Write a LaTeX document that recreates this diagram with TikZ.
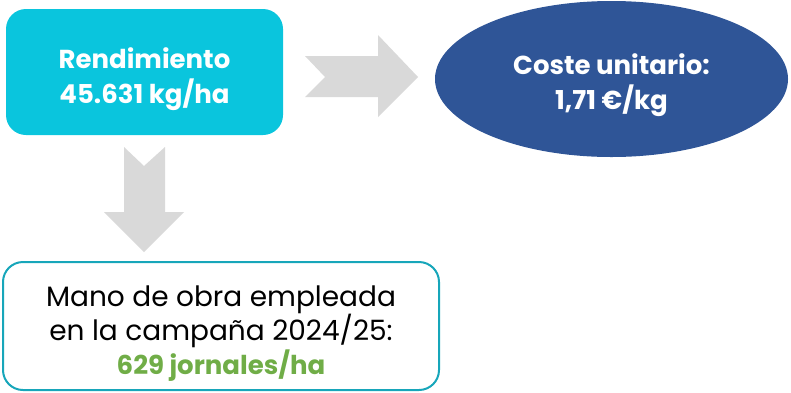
\documentclass[tikz,border=0pt]{standalone}
\usepackage{fontspec}
\setmainfont{Poppins}
\usetikzlibrary{shapes.geometric}
\definecolor{cyanbox}{HTML}{0AC5DD}
\definecolor{navy}{HTML}{2F5597}
\definecolor{tealline}{HTML}{17A6BA}
\definecolor{greytone}{HTML}{D9D9D9}
\definecolor{greentext}{HTML}{70AD47}
\tikzset{
  bigtext/.style={font=\fontsize{26}{35}\selectfont\bfseries, text=white, align=center, inner sep=0pt},
  regtext/.style={font=\fontsize{28}{34}\selectfont, text=black, align=center, inner sep=0pt}
}
\begin{document}
\begin{tikzpicture}[x=1pt,y=-1pt]
\useasboundingbox (0,0) rectangle (791,392);
% top-left box
\node[fill=cyanbox, rounded corners=20pt, minimum width=277pt, minimum height=126pt, inner sep=0pt] (rend) at (144.5,72) {};
\node[bigtext] (rendtxt) at ([yshift=-7pt]rend.center) {Rendimiento\\45.631 kg/ha};
% ellipse
\node[ellipse, fill=navy, minimum width=353pt, minimum height=156pt, inner sep=0pt] (coste) at (611.5,79) {};
\node[bigtext] (costetxt) at ([yshift=-6pt]coste.center) {Coste unitario:\\1,71 €/kg};
% bottom box
\node[draw=tealline, line width=2pt, rounded corners=20pt, minimum width=436pt, minimum height=128pt, inner sep=0pt] (mano) at (221,326) {};
\node[regtext] (manotxt) at ([yshift=-8pt]mano.center) {Mano de obra empleada\\en la campaña 2024/25:\\{\fontsize{26}{34}\selectfont\bfseries\color{greentext}629 jornales/ha}};
% right block arrow
\fill[greytone] (305,56) -- (378,56) -- (378,35) -- (418,77) -- (378,117) -- (378,97) -- (305,97) -- (325,77) -- cycle;
% down block arrow
\fill[greytone] (124,147) -- (144,166) -- (165,147) -- (165,212) -- (184,212) -- (144,252) -- (104,212) -- (124,212) -- cycle;
\end{tikzpicture}
\end{document}
